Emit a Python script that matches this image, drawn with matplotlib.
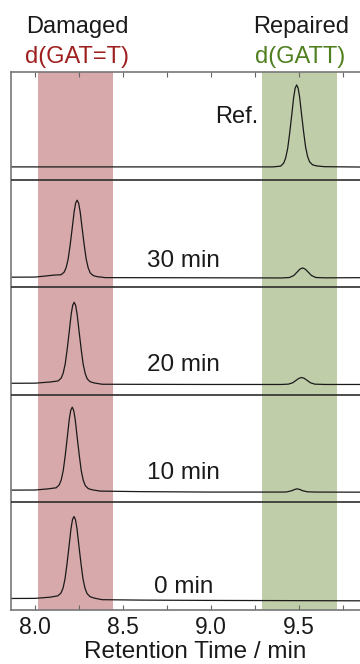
import matplotlib

matplotlib.use("Agg")
import matplotlib.pyplot as plt
from matplotlib.ticker import MultipleLocator
from matplotlib.transforms import blended_transform_factory

plt.rcParams["font.family"] = ["Liberation Sans", "DejaVu Sans"]

# HPLC traces, signal in % of one panel height above the panel floor
PANEL_LABELS = ["Ref.", "30 min", "20 min", "10 min", "0 min"]

REF_TIME = [7.85, 9.30, 9.351, 9.396, 9.413, 9.4245, 9.436, 9.447, 9.459, 9.470, 9.4785,
            9.487, 9.4955, 9.504, 9.515, 9.527, 9.538, 9.5495, 9.561, 9.578, 9.601,
            9.646, 9.90]
REF_SIGNAL = [11.8, 11.8, 11.8, 12.5, 15.2, 20.0, 28.9, 42.6, 59.8, 76.3, 84.9,
              88.0, 85.0, 76.6, 60.6, 43.8, 30.1, 21.3, 16.4, 13.7, 12.7,
              12.0, 11.6]

T30_TIME = [7.85, 8.00, 8.06, 8.104, 8.149, 8.166, 8.1775, 8.189, 8.200, 8.212, 8.223,
            8.2315, 8.240, 8.2485, 8.257, 8.268, 8.280, 8.291, 8.3025, 8.314, 8.331,
            8.354, 8.399, 8.80, 9.40, 9.446, 9.471, 9.491, 9.506, 9.521, 9.536,
            9.551, 9.571, 9.596, 9.65, 9.90]
T30_SIGNAL = [9.3, 9.4, 10.4, 11.2, 11.6, 14.0, 18.3, 26.4, 39.1, 55.1, 70.4,
              78.3, 80.9, 77.9, 70.1, 55.0, 39.2, 26.3, 18.0, 13.3, 10.8,
              9.8, 8.9, 8.8, 8.6, 9.0, 10.9, 14.3, 16.8, 17.9, 16.8,
              14.3, 10.9, 9.0, 8.7, 8.9]

T20_TIME = [7.85, 8.00, 8.087, 8.132, 8.149, 8.1605, 8.172, 8.183, 8.195, 8.206, 8.2145,
            8.223, 8.2315, 8.240, 8.251, 8.263, 8.274, 8.2855, 8.297, 8.314, 8.337,
            8.382, 8.70, 9.00, 9.40, 9.44, 9.465, 9.485, 9.50, 9.515, 9.53,
            9.545, 9.565, 9.59, 9.65, 9.90]
T20_SIGNAL = [10.7, 10.8, 11.9, 12.9, 15.5, 20.1, 28.7, 42.0, 58.8, 75.0, 83.2,
              86.0, 82.9, 74.6, 58.7, 42.1, 28.5, 19.8, 14.8, 12.1, 11.0,
              9.8, 9.7, 9.6, 9.6, 9.9, 11.2, 13.6, 15.3, 16.1, 15.3,
              13.6, 11.2, 9.9, 9.6, 9.6]

T10_TIME = [7.85, 8.00, 8.076, 8.121, 8.138, 8.1495, 8.161, 8.172, 8.184, 8.195, 8.2035,
            8.212, 8.2205, 8.229, 8.240, 8.252, 8.263, 8.2745, 8.286, 8.303, 8.326,
            8.371, 8.60, 9.00, 9.40, 9.43, 9.46, 9.475, 9.49, 9.505, 9.52,
            9.55, 9.60, 9.90]
T10_SIGNAL = [11.4, 11.5, 12.6, 13.6, 16.3, 20.9, 29.8, 43.4, 60.7, 77.2, 85.6,
              88.5, 85.3, 76.8, 60.5, 43.6, 29.6, 20.6, 15.6, 12.8, 11.7,
              10.5, 10.0, 9.6, 9.6, 9.7, 10.9, 12.0, 12.6, 12.0, 10.9,
              9.8, 9.6, 9.5]

T0_TIME = [7.85, 8.00, 8.086, 8.131, 8.148, 8.160, 8.171, 8.182, 8.194, 8.205, 8.2135,
           8.222, 8.2305, 8.239, 8.250, 8.262, 8.273, 8.2845, 8.296, 8.313, 8.336,
           8.381, 8.60, 9.00, 9.50, 9.90]
T0_SIGNAL = [10.7, 10.8, 11.9, 13.2, 15.8, 20.4, 29.0, 42.5, 59.5, 75.7, 84.1,
             86.9, 83.9, 75.5, 59.5, 42.7, 29.0, 20.2, 15.3, 12.4, 11.1,
             9.6, 9.2, 8.9, 8.7, 8.5]

TRACES = [(REF_TIME, REF_SIGNAL), (T30_TIME, T30_SIGNAL), (T20_TIME, T20_SIGNAL),
          (T10_TIME, T10_SIGNAL), (T0_TIME, T0_SIGNAL)]

DAMAGED_WINDOW = (8.02, 8.445)
REPAIRED_WINDOW = (9.288, 9.714)

PANEL = 100.0
n = len(TRACES)

fig = plt.figure(figsize=(3.6, 6.64), dpi=100)
ax = fig.add_axes([11 / 360, 54 / 664, 349 / 360, 538 / 664])

ax.axvspan(*DAMAGED_WINDOW, color="#d8a9ab", lw=0, zorder=0)
ax.axvspan(*REPAIRED_WINDOW, color="#c0cda9", lw=0, zorder=0)

for i, (time, signal) in enumerate(TRACES):
    offset = (n - 1 - i) * PANEL
    ax.plot(time, [s + offset for s in signal], color="#1a1a1a", lw=0.9, zorder=2)

for k in range(1, n):
    ax.axhline(k * PANEL, color="#2e2e2e", lw=1.2, zorder=3)

# condition labels inside each panel
ax.text(9.269, 4 * PANEL + 52.7, PANEL_LABELS[0], ha="right", va="baseline",
        fontsize=17, color="#1a1a1a")
label_y = [18.6, 21.7, 21.4, 15.5]
for i, lab in enumerate(PANEL_LABELS[1:], start=1):
    offset = (n - 1 - i) * PANEL
    ax.text(8.843, offset + label_y[i - 1], lab, ha="center", va="baseline",
            fontsize=17.5, color="#1a1a1a")

ax.set_xlim(7.864, 9.847)
ax.set_ylim(0, n * PANEL)
ax.set_yticks([])
ax.xaxis.set_major_locator(MultipleLocator(0.5))
ax.xaxis.set_minor_locator(MultipleLocator(0.25))
ax.tick_params(axis="x", which="both", direction="in", top=True, length=3.5,
               width=0.8, color="#666666", labelsize=16.5, labelcolor="#1a1a1a", pad=4)
ax.xaxis.set_major_formatter(plt.FormatStrFormatter("%.1f"))
ax.spines["right"].set_visible(False)
for side in ("left", "top", "bottom"):
    ax.spines[side].set_color("#777777")
    ax.spines[side].set_linewidth(1.2)

ax.set_xlabel("Retention Time / min", fontsize=17.5, color="#1a1a1a", va="baseline")
ax.xaxis.set_label_coords(0.527, -0.0885)

# column headers above the frame
trans = blended_transform_factory(ax.transData, fig.transFigure)
ax.text(8.241, 1 - 33.3 / 664, "Damaged", transform=trans, ha="center", va="baseline",
        fontsize=17, color="#1a1a1a", clip_on=False)
ax.text(8.241, 1 - 62.7 / 664, "d(GAT=T)", transform=trans, ha="center", va="baseline",
        fontsize=17, color="#9e1f1f", clip_on=False)
ax.text(9.511, 1 - 33.3 / 664, "Repaired", transform=trans, ha="center", va="baseline",
        fontsize=17, color="#1a1a1a", clip_on=False)
ax.text(9.505, 1 - 62.7 / 664, "d(GATT)", transform=trans, ha="center", va="baseline",
        fontsize=17, color="#4f7f1f", clip_on=False)

fig.savefig("out.png", dpi=100)
